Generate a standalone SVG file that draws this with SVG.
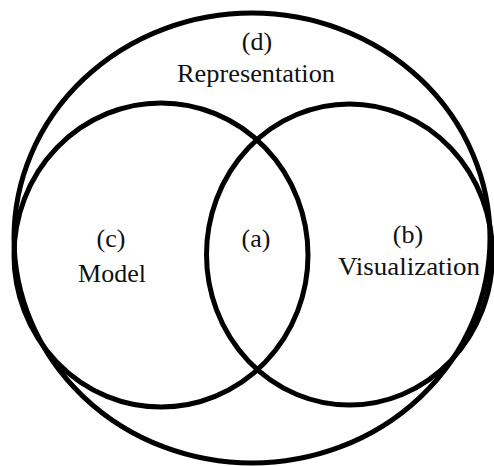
<svg xmlns="http://www.w3.org/2000/svg" width="494" height="466" viewBox="0 0 494 466">
<style>
.ring{fill:none;stroke:#000;stroke-width:5}
.lbl{font-size:26px;fill:#111;text-anchor:middle}
</style>
<rect width="494" height="466" fill="#fff"/>
<g id="node-d"><ellipse class="ring" cx="252" cy="238" rx="238" ry="225"/>
<text class="lbl" font-family="Liberation Serif, serif" x="257" y="50">(d)</text>
<text class="lbl" font-family="Liberation Serif, serif" x="256" y="82" textLength="158" lengthAdjust="spacingAndGlyphs">Representation</text></g>
<g id="node-c"><ellipse class="ring" cx="161" cy="255" rx="147" ry="152"/>
<text class="lbl" font-family="Liberation Serif, serif" x="111" y="247">(c)</text>
<text class="lbl" font-family="Liberation Serif, serif" x="112" y="282">Model</text></g>
<g id="node-b"><ellipse class="ring" cx="349.5" cy="254.5" rx="143" ry="150.5"/>
<text class="lbl" font-family="Liberation Serif, serif" x="408" y="243">(b)</text>
<text class="lbl" font-family="Liberation Serif, serif" x="409" y="275" textLength="142" lengthAdjust="spacingAndGlyphs">Visualization</text></g>
<g id="node-a"><text class="lbl" font-family="Liberation Serif, serif" x="256" y="247">(a)</text></g>
<g id="connectors"></g>
</svg>
